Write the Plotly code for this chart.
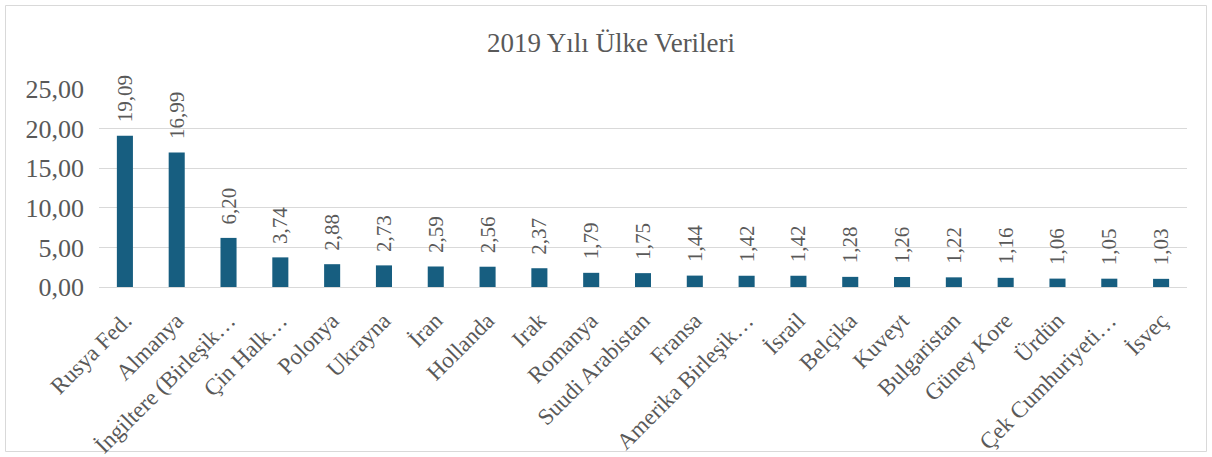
import plotly.graph_objects as go

categories = ["Rusya Fed.", "Almanya", "İngiltere (Birleşik…", "Çin Halk…", "Polonya", "Ukrayna",
              "İran", "Hollanda", "Irak", "Romanya", "Suudi Arabistan", "Fransa",
              "Amerika Birleşik…", "İsrail", "Belçika", "Kuveyt", "Bulgaristan",
              "Güney Kore", "Ürdün", "Çek Cumhuriyeti…", "İsveç"]
values = [19.09, 16.99, 6.20, 3.74, 2.88, 2.73, 2.59, 2.56, 2.37, 1.79, 1.75, 1.44,
          1.42, 1.42, 1.28, 1.26, 1.22, 1.16, 1.06, 1.05, 1.03]
title_text = "2019 Yılı Ülke Verileri"
y_ticks = [0, 5, 10, 15, 20, 25]

FONT = "Liberation Serif, Times New Roman, serif"
GRAY = "#595959"

fig = go.Figure(go.Bar(
    x=categories, y=values,
    marker=dict(color="#175E80", line=dict(width=0)),
    width=0.31,
    texttemplate="  %{y:.2f}",
    textposition="outside",
    textangle=-90,
    constraintext="none",
    cliponaxis=False,
    textfont=dict(family=FONT, size=21, color=GRAY),
))

L, R, T, B = 99, 25, 89, 170
W, H = 1212, 457
pw, ph = W - L - R, H - T - B

fig.update_layout(
    width=W, height=H,
    margin=dict(l=L, r=R, t=T, b=B, autoexpand=False),
    paper_bgcolor="white", plot_bgcolor="white",
    separators=",.",
    font=dict(family=FONT, color=GRAY),
    title=dict(text=title_text, xref="container", x=611 / W, xanchor="center",
               y=1 - 43 / H, yanchor="middle",
               font=dict(family=FONT, size=27, color=GRAY)),
    showlegend=False,
    bargap=0.69,
)
fig.update_yaxes(range=[0, 25], tickvals=y_ticks, tickformat=".2f",
                 showgrid=True, gridcolor="#D9D9D9", gridwidth=1,
                 zeroline=False, showline=False, ticks="", automargin=False,
                 tickfont=dict(family=FONT, size=26, color=GRAY), ticklabelstandoff=14)
fig.update_xaxes(tickangle=-45, showline=True, linecolor="#D9D9D9", linewidth=1,
                 ticks="", automargin=False,
                 tickfont=dict(family=FONT, size=23, color=GRAY), ticklabelstandoff=10)

# outer border around chart area
x0 = (5.5 - L) / pw
x1 = (W - 5.5 - L) / pw
y1 = (H - B - 5.5) / ph
y0 = (H - B - (H - 5.5)) / ph
fig.add_shape(type="rect", xref="paper", yref="paper", x0=x0, x1=x1, y0=y0, y1=y1,
              line=dict(color="#D9D9D9", width=1), layer="below")

fig.write_html("out.html", config={"displayModeBar": False},
               post_script="document.body.style.margin='0';")
